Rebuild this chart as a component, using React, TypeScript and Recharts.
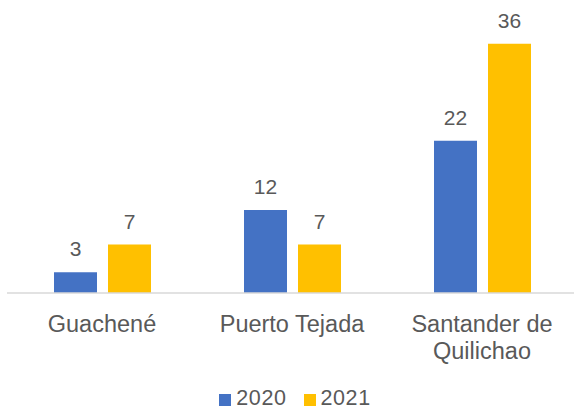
import React from "react";
import { BarChart, Bar, XAxis, YAxis, Legend, LabelList } from "recharts";

const categories = ["Guachené", "Puerto Tejada", "Santander de Quilichao"];
const values2020 = [3, 12, 22];
const values2021 = [7, 7, 36];
const seriesNames = ["2020", "2021"];
const seriesColors = ["#4472C4", "#FFC000"];

const data = categories.map((c, i) => ({
  name: c,
  [seriesNames[0]]: values2020[i],
  [seriesNames[1]]: values2021[i],
}));

const FONT = '"Liberation Sans", Arial, sans-serif';
const TEXT_COLOR = "#595959";
const MAX_CHARS = 14;

function wrapWords(label: string): string[] {
  const words = label.split(" ");
  const lines: string[] = [];
  let cur = "";
  for (const w of words) {
    const next = cur ? cur + " " + w : w;
    if (next.length > MAX_CHARS && cur) {
      lines.push(cur);
      cur = w;
    } else {
      cur = next;
    }
  }
  if (cur) lines.push(cur);
  return lines;
}

const CategoryTick = (props: any) => {
  const { x, y, payload } = props;
  const lines = wrapWords(String(payload.value));
  return (
    <text
      x={x}
      y={y + 39}
      textAnchor="middle"
      fill={TEXT_COLOR}
      fontSize={23.5}
      fontFamily={FONT}
    >
      {lines.map((l, i) => (
        <tspan key={i} x={x} dy={i === 0 ? 0 : 27}>
          {l}
        </tspan>
      ))}
    </text>
  );
};

const LegendContent = (props: any) => {
  const { payload } = props;
  return (
    <div
      style={{
        display: "flex",
        justifyContent: "center",
        alignItems: "center",
        height: 34,
        paddingTop: 10,
        boxSizing: "border-box",
        fontFamily: FONT,
        fontSize: 21.5,
        letterSpacing: 0.6,
        color: TEXT_COLOR,
        paddingLeft: 6,
      }}
    >
      {payload.map((p: any, i: number) => (
        <div key={i} style={{ display: "flex", alignItems: "center", marginRight: i < payload.length - 1 ? 17 : 0 }}>
          <div style={{ width: 12, height: 12, background: p.color, marginRight: 5, marginTop: 3 }} />
          <span style={{ lineHeight: "24px" }}>{p.value}</span>
        </div>
      ))}
    </div>
  );
};

export default function App() {
  return (
    <div style={{ position: "absolute", left: 0, top: 0, width: 574, height: 410, overflow: "hidden", background: "#fff" }}>
      <BarChart
        width={580}
        height={410}
        data={data}
        margin={{ top: 16, right: 3, bottom: 0, left: 7 }}
        barCategoryGap={47}
        barGap={11}
      >
        <XAxis
          dataKey="name"
          axisLine={{ stroke: "#D9D9D9", strokeWidth: 1.5 }}
          tickLine={false}
          tickSize={0}
          tickMargin={0}
          height={83}
          interval={0}
          tick={<CategoryTick />}
        />
        <YAxis hide domain={[0, 40]} />
        <Legend verticalAlign="bottom" height={34} content={<LegendContent />} />
        {seriesNames.map((s, i) => (
          <Bar key={s} dataKey={s} fill={seriesColors[i]} isAnimationActive={false}>
            <LabelList
              dataKey={s}
              position="top"
              offset={16}
              fill={TEXT_COLOR}
              fontSize={21}
              fontFamily={FONT}
            />
          </Bar>
        ))}
      </BarChart>
    </div>
  );
}
